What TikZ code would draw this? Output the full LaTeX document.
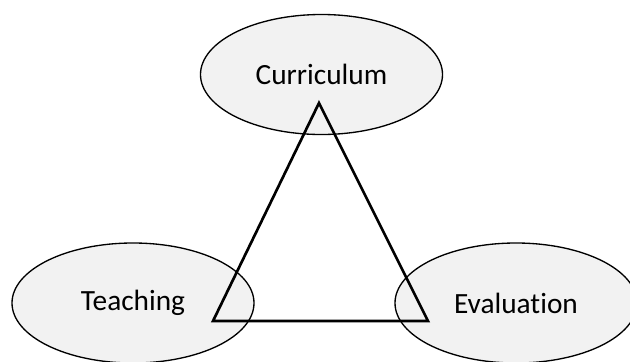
\documentclass[tikz,border=0pt]{standalone}
\usepackage{fontspec}
\setmainfont[Ligatures=NoCommon]{Carlito}
\usetikzlibrary{shapes.geometric}

\definecolor{bubblegray}{HTML}{F2F2F2}

\tikzset{
  topic/.style={ellipse, draw=black, line width=1pt, fill=bubblegray,
    minimum width=181.5pt, minimum height=90pt, inner sep=0pt, font=\fontsize{22}{26}\selectfont}
}

\begin{document}
\begin{tikzpicture}[x=0.75pt,y=-0.75pt]

\clip (0,0) rectangle (630,361);

\node[topic] (curriculum) at (321.5,74.5) {Curriculum};
\node[topic] (teaching) at (133,303) {Teaching};
\node[topic] (evaluation) at (516,303) {Evaluation};

\coordinate (top) at (319,103);
\coordinate (left) at (213,321);
\coordinate (right) at (428,321);

\draw[line width=2pt, line join=miter] (top) -- (right) -- (left) -- cycle;

\end{tikzpicture}
\end{document}
